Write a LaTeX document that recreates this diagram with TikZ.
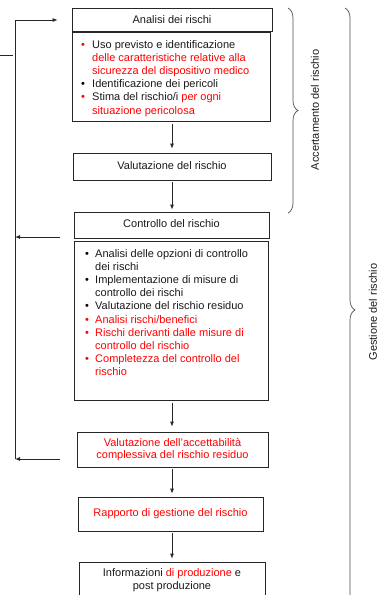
\documentclass[tikz,border=0pt]{standalone}
\usepackage{fontspec}
\setmainfont{Liberation Sans}
\usetikzlibrary{decorations.pathreplacing,arrows.meta}
\newcommand\mybul[2]{\makebox[#2][l]{\color{#1}\textbullet}}
\begin{document}
\begin{tikzpicture}[x=1pt,y=-1pt,
  txt/.style={font=\fontsize{11}{13.2}\selectfont, text=black!90},
  box/.style={txt, draw=black!85, line width=0.8pt, inner sep=0pt, align=center},
  arr/.style={draw=black!85, line width=0.8pt, -{Latex[length=5pt,width=4pt]}},
  ln/.style={draw=black!85, line width=0.8pt},
  brc/.style={draw=black!70, line width=0.7pt, decorate, decoration={brace, amplitude=10pt}},
  lbl/.style={txt, rotate=90, inner sep=0pt}]
\useasboundingbox (0,0) rectangle (379,595);
\clip (0,0) rectangle (379,595);

% boxes
\node[box, minimum width=200pt, minimum height=23pt] (a) at (172,19.5) {Analisi dei rischi};
\node[box, minimum width=198pt, minimum height=89pt] (b1) at (171,76.5) {};
\node[txt, anchor=base west, inner sep=0pt] (t1) at (81,48) {\begin{tabular}[t]{@{}l@{}l@{}}
\mybul{red}{11pt} & Uso previsto e identificazione\\
 & \textcolor{red}{delle caratteristiche relative alla}\\
 & \textcolor{red}{sicurezza del dispositivo medico}\\
\mybul{black}{11pt} & Identificazione dei pericoli\\
\mybul{red}{11pt} & Stima del rischio/i \textcolor{red}{per ogni}\\
 & \textcolor{red}{situazione pericolosa}
\end{tabular}};
\node[box, minimum width=198pt, minimum height=27pt] (v1) at (172,166.5) {\raisebox{1.5pt}{Valutazione del rischio}};
\node[box, minimum width=195pt, minimum height=26pt] (c1) at (171.5,225) {\raisebox{2.5pt}{Controllo del rischio}};
\node[box, minimum width=194pt, minimum height=159pt] (b2) at (171,320.5) {};
\node[txt, anchor=base west, inner sep=0pt] (t2) at (85,257) {\begin{tabular}[t]{@{}l@{}l@{}}
\mybul{black}{10pt} & Analisi delle opzioni di controllo\\
 & dei rischi\\
\mybul{black}{10pt} & Implementazione di misure di\\
 & controllo dei rischi\\
\mybul{black}{10pt} & Valutazione del rischio residuo\\
\mybul{red}{10pt} & \textcolor{red}{Analisi rischi/benefici}\\
\mybul{red}{10pt} & \textcolor{red}{Rischi derivanti dalle misure di}\\
 & \textcolor{red}{controllo del rischio}\\
\mybul{red}{10pt} & \textcolor{red}{Completezza del controllo del}\\
 & \textcolor{red}{rischio}
\end{tabular}};
\node[box, text=red, font=\fontsize{11}{12.5}\selectfont, minimum width=191pt, minimum height=35pt] (va) at (172.5,449.5) {Valutazione dell’accettabilità\\complessiva del rischio residuo};
\node[box, text=red, minimum width=185pt, minimum height=34pt] (rp) at (170.5,514) {Rapporto di gestione del rischio};
\node[box, font=\fontsize{11}{13}\selectfont, minimum width=186pt, minimum height=37pt] (inf) at (172,580.5) {Informazioni \textcolor{red}{di produzione} e\\post produzione};

% vertical arrows
\coordinate (ax) at (172,0);
\draw[arr, shorten <=3pt, shorten >=4pt] (b1.south -| ax) -- (v1.north -| ax);
\draw[arr, shorten <=2pt, shorten >=2pt] (v1.south -| ax) -- (c1.north -| ax);
\draw[arr, shorten <=3pt, shorten >=5pt] (b2.south -| ax) -- (va.north -| ax);
\draw[arr, shorten <=2pt, shorten >=3pt] (va.south -| ax) -- (rp.north -| ax);
\draw[arr, shorten <=2pt, shorten >=3pt] (rp.south -| ax) -- (inf.north -| ax);

% feedback loop
\coordinate (L1) at (15,20);
\coordinate (L2) at (15,459);
\coordinate (L3) at (15,237);
\coordinate (R1) at (60,237);
\coordinate (R2) at (60,459);
\draw[ln] (L2) -- (L1);
\draw[arr, shorten >=14pt] (L1) -- (L1 -| a.west);
\draw[arr] (R1) -- (L3);
\draw[arr] (R2) -- (L2);

% small stray line
\coordinate (s1) at (0,55);
\coordinate (s2) at (13,55);
\draw[ln] (s1) -- (s2);

% braces
\coordinate (ib1) at (288,8);
\coordinate (ib2) at (288,213);
\coordinate (ob1) at (345,8);
\coordinate (ob2) at (345,612);
\draw[brc] (ib1) -- (ib2);
\draw[brc] (ob1) -- (ob2);
\node[lbl] (accl) at (315,110) {Accertamento del rischio};
\node[lbl] (gesl) at (373,312) {Gestione del rischio};
\end{tikzpicture}
\end{document}
